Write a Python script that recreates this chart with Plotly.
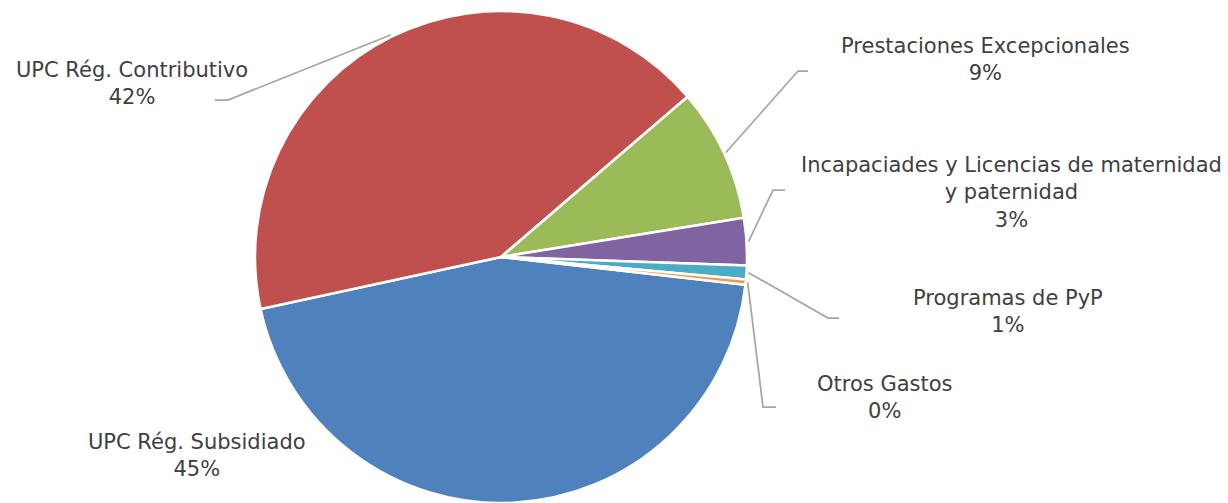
import math
import plotly.graph_objects as go

W, H = 1228, 503

labels = ["UPC Rég. Subsidiado", "UPC Rég. Contributivo", "Prestaciones Excepcionales",
          "Incapaciades y Licencias de maternidad<br>y paternidad", "Programas de PyP", "Otros Gastos"]
values = [44.8, 42.1, 8.75, 3.1, 0.9, 0.35]
colors = ["#4F81BD", "#C0504D", "#9BBB59", "#8064A2", "#4BACC6", "#F79646"]

# pie placement (pixels)
cx, cy, r = 501, 257, 246
rotation = 96.5

# label centres and leader-line elbows (pixels), None = no leader line
label_pos = [(197, 455), (132, 83), (985, 60), (1011, 192), (1008, 311), (885, 397)]
elbows = [None, [(228, 100), (215, 100)], [(798, 71), (808, 71)], [(773, 190), (785, 190)],
          [(828, 318), (839, 318)], [(763, 407), (776, 407)]]


def px(x):
    return x / W


def py(y):
    return 1 - y / H


fig = go.Figure(go.Pie(
    labels=labels, values=values, sort=False, direction="clockwise", rotation=rotation,
    marker=dict(colors=colors, line=dict(color="white", width=2.5)),
    textinfo="none", hoverinfo="label+percent", showlegend=False,
    domain=dict(x=[px(cx - r), px(cx + r)], y=[py(cy + r), py(cy - r)]),
))

total = sum(values)
cum = 0
for i, v in enumerate(values):
    mid = math.radians(rotation + 360 * (cum + v / 2) / total)
    cum += v
    pct = round(v / total * 100)
    lx, ly = label_pos[i]
    fig.add_annotation(x=px(lx), y=py(ly), xref="paper", yref="paper", showarrow=False,
                       text=f"{labels[i]}<br>{pct}%", xanchor="center", yanchor="middle",
                       align="center", font=dict(size=21, color="#404040"))
    if elbows[i]:
        pts = [(cx + (r + 2) * math.sin(mid), cy - (r + 2) * math.cos(mid))] + elbows[i]
        path = "M " + " L ".join(f"{px(a)},{py(b)}" for a, b in pts)
        fig.add_shape(type="path", path=path, xref="paper", yref="paper",
                      line=dict(color="#A6A6A6", width=1.75))

fig.update_layout(
    width=W, height=H, margin=dict(l=0, r=0, t=0, b=0),
    paper_bgcolor="white", plot_bgcolor="white",
    font=dict(family="DejaVu Sans", size=21, color="#404040"),
)
fig.write_html("out.html", config={"displayModeBar": False},
               post_script="document.body.style.margin='0';")
